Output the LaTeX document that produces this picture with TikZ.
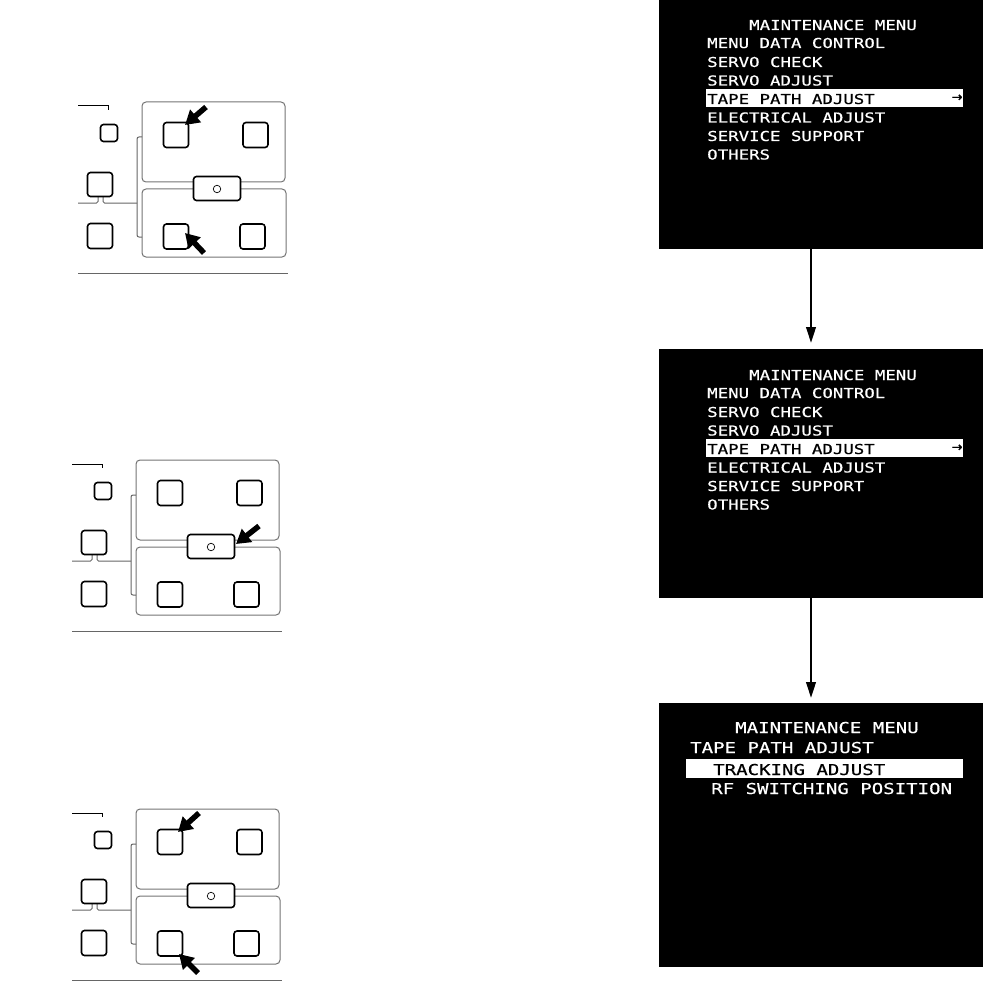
\documentclass[tikz,border=0pt]{standalone}
\usepackage{fontspec}
\usetikzlibrary{arrows.meta}
\newfontfamily\scrfont[FakeStretch=1.27,FakeBold=0.5]{DejaVu Sans Mono}
\newfontfamily\symfont[FakeBold=1]{DejaVu Sans}
\tikzset{
  screen/.style={fill=black, draw=none, inner sep=0pt, anchor=north west, minimum width=324pt},
  mtxt/.style={text=white, inner sep=0pt, anchor=base west, font=\scrfont\fontsize{13.7}{14}\selectfont},
  mtxtL/.style={text=white, inner sep=0pt, anchor=base west, font=\scrfont\fontsize{15}{16}\selectfont},
  seltxt/.style={text=black},
  selbar/.style={fill=white, draw=none},
  arrglyph/.style={text=black, inner sep=0pt, font=\symfont\fontsize{13}{14}\selectfont},
  btn/.style={draw=black, line width=1.6pt, rounded corners=3pt, fill=white, inner sep=0pt, minimum width=25pt, minimum height=25pt},
  panelbox/.style={draw=black!55, line width=1pt, rounded corners=4pt},
  wire/.style={draw=black!60, line width=1pt},
  pointer/.style={line width=5.5pt, -{Triangle[length=14pt,width=16pt]}},
  flow/.style={line width=2.5pt, -{Triangle[length=16pt,width=9.5pt]}},
}
\newcommand\devpanel[2]{%
\begin{scope}[shift={#1}]
  \draw[black, line width=1pt] (78,106) -- (108,106) -- (108,110);
  \draw[panelbox] (142,102) rectangle (285,182);
  \draw[panelbox] (142,189) rectangle (286,257);
  \draw[wire, rounded corners=2pt] (142,137) -- (137,137) -- (137,237) -- (142,237);
  \draw[wire, rounded corners=1.5pt] (78,203) -- (98,203) -- (98,195);
  \draw[wire, rounded corners=1.5pt] (103,195) -- (103,203) -- (137,203);
  \draw[wire] (78,273) -- (288,273);
  \node[btn, minimum width=17pt, minimum height=17pt] (#2sb) at (109,133) {};
  \node[btn, minimum height=24pt] (#2bb) at (100,184.5) {};
  \node[btn] (#2bl) at (100,236) {};
  \node[btn] (#2ua) at (176,135) {};
  \node[btn] (#2ub) at (255.5,135) {};
  \node[btn] (#2la) at (176,236.5) {};
  \node[btn] (#2lb) at (252.5,236.5) {};
  \node[btn, minimum width=47pt, minimum height=24pt] (#2cb) at (217,188.5) {};
  \node[circle, draw=black, line width=0.7pt, minimum size=7.5pt, inner sep=0pt] (#2led) at (217,189) {};
\end{scope}}
\begin{document}
\begin{tikzpicture}[x=1pt,y=-1pt]
\useasboundingbox (0,0) rectangle (983,1003);

% ---------- left panels ----------
\devpanel{(0,0)}{pa}
\devpanel{(-6,358)}{pb}
\devpanel{(-6,707)}{pc}

\coordinate (pa1t) at (206,107);  \coordinate (pa1h) at (185,125);
\coordinate (pa2t) at (204,253);  \coordinate (pa2h) at (185,233);
\coordinate (pb1t) at (259,526);  \coordinate (pb1h) at (236,544);
\coordinate (pc1t) at (199,813);  \coordinate (pc1h) at (178,832);
\coordinate (pc2t) at (198,973);  \coordinate (pc2h) at (179,954);
\draw[pointer] (pa1t) -- (pa1h);
\draw[pointer] (pa2t) -- (pa2h);
\draw[pointer] (pb1t) -- (pb1h);
\draw[pointer] (pc1t) -- (pc1h);
\draw[pointer] (pc2t) -- (pc2h);

% ---------- screens ----------
\node[screen, minimum height=250pt] (s1) at (659,-1) {};
\node[screen, minimum height=249pt] (s2) at (659,349) {};
\node[screen, minimum height=264pt] (s3) at (659,703) {};

% screen 1
\fill[selbar] (706,89) rectangle (963,107);
\node[mtxt] (s1t0) at (749,30) {MAINTENANCE MENU};
\node[mtxt] (s1t1) at (707,48) {MENU DATA CONTROL};
\node[mtxt] (s1t2) at (707,67) {SERVO CHECK};
\node[mtxt] (s1t3) at (707,85.5) {SERVO ADJUST};
\node[mtxt, seltxt] (s1t4) at (707,104) {TAPE PATH ADJUST};
\node[arrglyph] (s1ar) at (957,98) {→};
\node[mtxt] (s1t5) at (707,122.5) {ELECTRICAL ADJUST};
\node[mtxt] (s1t6) at (707,141) {SERVICE SUPPORT};
\node[mtxt] (s1t7) at (707,159.5) {OTHERS};

% screen 2
\fill[selbar] (706,439) rectangle (963,457);
\node[mtxt] (s2t0) at (749,380) {MAINTENANCE MENU};
\node[mtxt] (s2t1) at (707,398) {MENU DATA CONTROL};
\node[mtxt] (s2t2) at (707,417) {SERVO CHECK};
\node[mtxt] (s2t3) at (707,435.5) {SERVO ADJUST};
\node[mtxt, seltxt] (s2t4) at (707,454) {TAPE PATH ADJUST};
\node[arrglyph] (s2ar) at (957,448) {→};
\node[mtxt] (s2t5) at (707,472.5) {ELECTRICAL ADJUST};
\node[mtxt] (s2t6) at (707,491) {SERVICE SUPPORT};
\node[mtxt] (s2t7) at (707,509.5) {OTHERS};

% screen 3
\fill[selbar] (686,759) rectangle (963,778);
\node[mtxtL] (s3t0) at (735,733) {MAINTENANCE MENU};
\node[mtxtL] (s3t1) at (690,753) {TAPE PATH ADJUST};
\node[mtxtL, seltxt] (s3t2) at (713,775) {TRACKING ADJUST};
\node[mtxtL] (s3t3) at (711,794) {RF SWITCHING POSITION};

% flow arrows
\coordinate (ax) at (811,0);
\draw[flow, shorten >=6pt] (s1.south -| ax) -- (s2.north -| ax);
\draw[flow, shorten >=5pt] (s2.south -| ax) -- (s3.north -| ax);
\end{tikzpicture}
\end{document}
